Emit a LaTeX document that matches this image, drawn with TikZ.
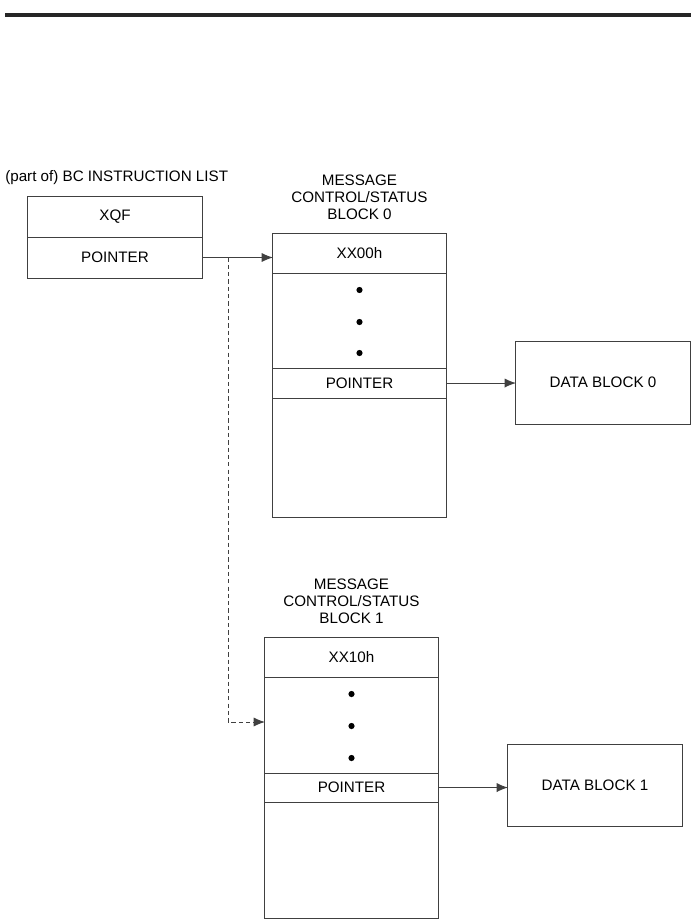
\documentclass[tikz,border=0pt]{standalone}
\usepackage{fontspec}
\setmainfont{Liberation Sans}
\usetikzlibrary{positioning,arrows.meta}

\begin{document}
\begin{tikzpicture}[x=0.025cm, y=-0.025cm,
    cell/.style={rectangle, draw=black!75, line width=0.7pt, fill=white,
        minimum width=4.325cm, inner sep=0pt, outer sep=0pt,
        font=\fontsize{10.8}{12}\selectfont},
    caption/.style={inner sep=0pt, align=center,
        font=\fontsize{10.8}{12.2}\selectfont},
    link/.style={draw=black!75, line width=0.7pt,
        -{Latex[length=8pt, width=6.5pt]}}
]
    \useasboundingbox (0,0) rectangle (691,920);
    \draw[line width=2.2pt, black!85] (5,15) -- (691,15);

    % instruction list
    \node[caption, anchor=west] (iltitle) at (5,178) {(part of) BC INSTRUCTION LIST};
    \node[cell, minimum width=4.35cm, minimum height=1.025cm] (xqf) at (115,216.5) {XQF};
    \node[cell, minimum width=4.35cm, minimum height=1.025cm, below=0pt of xqf] (ilptr) {POINTER};

    % block 0
    \node[caption] (msg0) at (359.5,197) {MESSAGE\\CONTROL/STATUS\\BLOCK 0};
    \node[cell, minimum height=1cm] (hdr0) at (359.5,253) {XX00h};
    \node[cell, minimum height=2.375cm, below=0pt of hdr0] (dots0) {};
    \node[cell, minimum height=0.75cm, below=0pt of dots0] (ptr0) {POINTER};
    \node[cell, minimum height=2.975cm, below=0pt of ptr0] (tail0) {};
    \foreach \d in {17,49,80}
        \fill[black] (dots0.north) ++(0,\d) circle (2.2pt);
    \node[cell, minimum width=4.35cm, minimum height=2.075cm] (db0) at (603,382.5) {DATA BLOCK 0};

    % block 1
    \node[caption] (msg1) at (351.5,601) {MESSAGE\\CONTROL/STATUS\\BLOCK 1};
    \node[cell, minimum height=1cm] (hdr1) at (351.5,657) {XX10h};
    \node[cell, minimum height=2.4cm, below=0pt of hdr1] (dots1) {};
    \node[cell, minimum height=0.725cm, below=0pt of dots1] (ptr1) {POINTER};
    \node[cell, minimum height=2.9cm, below=0pt of ptr1] (tail1) {};
    \foreach \d in {17,49,81}
        \fill[black] (dots1.north) ++(0,\d) circle (2.2pt);
    \node[cell, minimum width=4.35cm, minimum height=2.05cm] (db1) at (595,785) {DATA BLOCK 1};

    % pointers
    \draw[link] (ilptr.east) -- (ilptr.east -| hdr0.west);
    \draw[link] (ptr0.east) -- (ptr0.east -| db0.west);
    \draw[link] (ptr1.east) -- (ptr1.east -| db1.west);
    \coordinate (tap) at (228,257.5);
    \draw[link, dash pattern=on 3pt off 2.2pt] (tap) |- (dots1.west |- 0,722);
\end{tikzpicture}
\end{document}
